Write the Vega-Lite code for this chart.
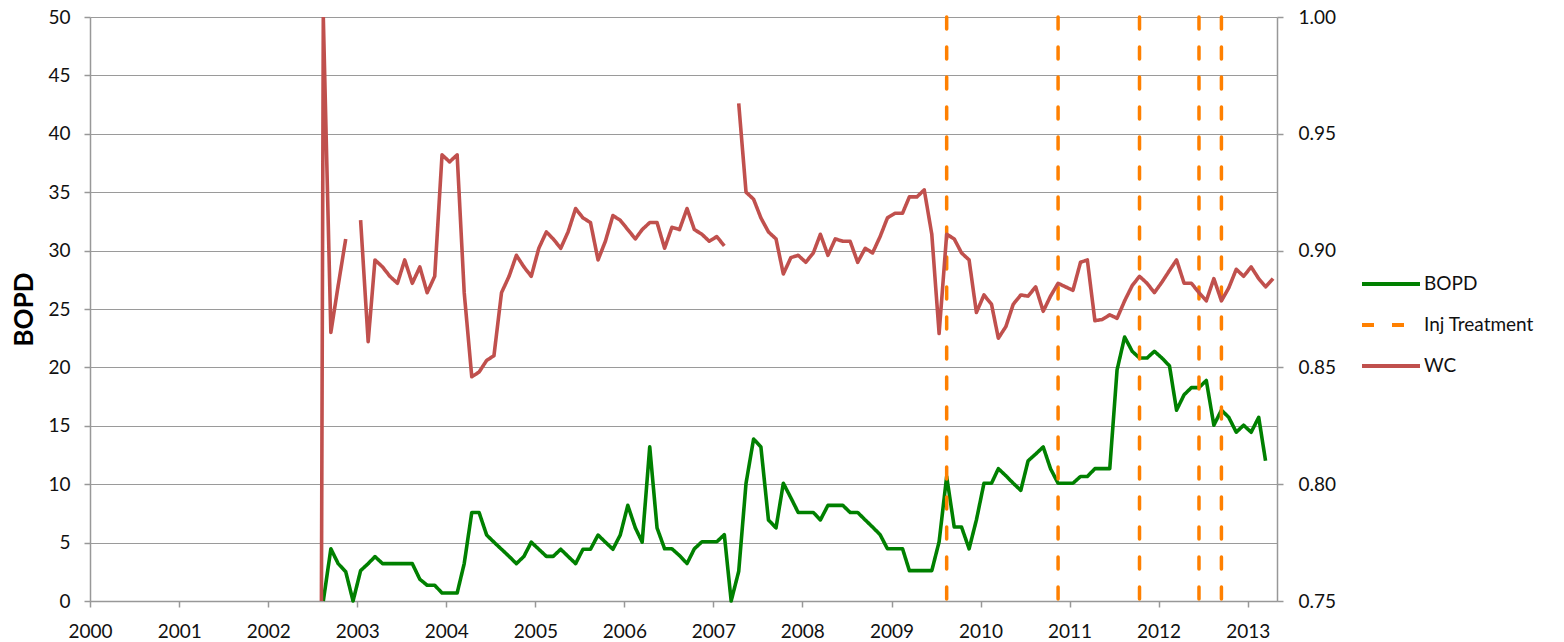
{
  "$schema": "https://vega.github.io/schema/vega-lite/v6.json",
  "width": 1187,
  "height": 584,
  "autosize": "none",
  "padding": {"left": 90, "top": 17, "right": 287, "bottom": 41},
  "background": "white",
  "config": {
    "view": {"stroke": null},
    "font": "Lato",
    "axis": {
      "labelFont": "Lato",
      "labelFontSize": 19,
      "labelColor": "#111111",
      "domainColor": "#989898",
      "tickColor": "#989898",
      "gridColor": "#9a9a9a",
      "domainWidth": 1.5,
      "tickWidth": 1.5,
      "gridWidth": 1.2,
      "tickSize": 6
    },
    "legend": {
      "labelFont": "Lato",
      "labelFontSize": 19,
      "labelColor": "#111111"
    }
  },
  "datasets": {
    "bopd": [
      {"date": "2002-08-15", "value": 0, "series": "BOPD"},
      {"date": "2002-09-15", "value": 4.47, "series": "BOPD"},
      {"date": "2002-10-15", "value": 3.2, "series": "BOPD"},
      {"date": "2002-11-15", "value": 2.5, "series": "BOPD"},
      {"date": "2002-12-15", "value": 0, "series": "BOPD"},
      {"date": "2003-01-15", "value": 2.6, "series": "BOPD"},
      {"date": "2003-02-15", "value": 3.2, "series": "BOPD"},
      {"date": "2003-03-15", "value": 3.8, "series": "BOPD"},
      {"date": "2003-04-15", "value": 3.2, "series": "BOPD"},
      {"date": "2003-05-15", "value": 3.2, "series": "BOPD"},
      {"date": "2003-06-15", "value": 3.2, "series": "BOPD"},
      {"date": "2003-07-15", "value": 3.2, "series": "BOPD"},
      {"date": "2003-08-15", "value": 3.2, "series": "BOPD"},
      {"date": "2003-09-15", "value": 1.86, "series": "BOPD"},
      {"date": "2003-10-15", "value": 1.35, "series": "BOPD"},
      {"date": "2003-11-15", "value": 1.35, "series": "BOPD"},
      {"date": "2003-12-15", "value": 0.68, "series": "BOPD"},
      {"date": "2004-01-15", "value": 0.68, "series": "BOPD"},
      {"date": "2004-02-15", "value": 0.68, "series": "BOPD"},
      {"date": "2004-03-15", "value": 3.2, "series": "BOPD"},
      {"date": "2004-04-15", "value": 7.58, "series": "BOPD"},
      {"date": "2004-05-15", "value": 7.58, "series": "BOPD"},
      {"date": "2004-06-15", "value": 5.65, "series": "BOPD"},
      {"date": "2004-07-15", "value": 5.04, "series": "BOPD"},
      {"date": "2004-08-15", "value": 4.43, "series": "BOPD"},
      {"date": "2004-09-15", "value": 3.82, "series": "BOPD"},
      {"date": "2004-10-15", "value": 3.2, "series": "BOPD"},
      {"date": "2004-11-15", "value": 3.82, "series": "BOPD"},
      {"date": "2004-12-15", "value": 5.04, "series": "BOPD"},
      {"date": "2005-01-15", "value": 4.43, "series": "BOPD"},
      {"date": "2005-02-15", "value": 3.82, "series": "BOPD"},
      {"date": "2005-03-15", "value": 3.82, "series": "BOPD"},
      {"date": "2005-04-15", "value": 4.43, "series": "BOPD"},
      {"date": "2005-05-15", "value": 3.82, "series": "BOPD"},
      {"date": "2005-06-15", "value": 3.2, "series": "BOPD"},
      {"date": "2005-07-15", "value": 4.43, "series": "BOPD"},
      {"date": "2005-08-15", "value": 4.43, "series": "BOPD"},
      {"date": "2005-09-15", "value": 5.65, "series": "BOPD"},
      {"date": "2005-10-15", "value": 5.04, "series": "BOPD"},
      {"date": "2005-11-15", "value": 4.43, "series": "BOPD"},
      {"date": "2005-12-15", "value": 5.65, "series": "BOPD"},
      {"date": "2006-01-15", "value": 8.19, "series": "BOPD"},
      {"date": "2006-02-15", "value": 6.26, "series": "BOPD"},
      {"date": "2006-03-15", "value": 5.04, "series": "BOPD"},
      {"date": "2006-04-15", "value": 13.2, "series": "BOPD"},
      {"date": "2006-05-15", "value": 6.26, "series": "BOPD"},
      {"date": "2006-06-15", "value": 4.47, "series": "BOPD"},
      {"date": "2006-07-15", "value": 4.47, "series": "BOPD"},
      {"date": "2006-08-15", "value": 3.89, "series": "BOPD"},
      {"date": "2006-09-15", "value": 3.21, "series": "BOPD"},
      {"date": "2006-10-15", "value": 4.47, "series": "BOPD"},
      {"date": "2006-11-15", "value": 5.07, "series": "BOPD"},
      {"date": "2006-12-15", "value": 5.07, "series": "BOPD"},
      {"date": "2007-01-15", "value": 5.07, "series": "BOPD"},
      {"date": "2007-02-15", "value": 5.68, "series": "BOPD"},
      {"date": "2007-03-15", "value": 0, "series": "BOPD"},
      {"date": "2007-04-15", "value": 2.54, "series": "BOPD"},
      {"date": "2007-05-15", "value": 10.08, "series": "BOPD"},
      {"date": "2007-06-15", "value": 13.87, "series": "BOPD"},
      {"date": "2007-07-15", "value": 13.19, "series": "BOPD"},
      {"date": "2007-08-15", "value": 6.94, "series": "BOPD"},
      {"date": "2007-09-15", "value": 6.26, "series": "BOPD"},
      {"date": "2007-10-15", "value": 10.08, "series": "BOPD"},
      {"date": "2007-11-15", "value": 8.83, "series": "BOPD"},
      {"date": "2007-12-15", "value": 7.58, "series": "BOPD"},
      {"date": "2008-01-15", "value": 7.58, "series": "BOPD"},
      {"date": "2008-02-15", "value": 7.58, "series": "BOPD"},
      {"date": "2008-03-15", "value": 6.94, "series": "BOPD"},
      {"date": "2008-04-15", "value": 8.19, "series": "BOPD"},
      {"date": "2008-05-15", "value": 8.19, "series": "BOPD"},
      {"date": "2008-06-15", "value": 8.19, "series": "BOPD"},
      {"date": "2008-07-15", "value": 7.58, "series": "BOPD"},
      {"date": "2008-08-15", "value": 7.58, "series": "BOPD"},
      {"date": "2008-09-15", "value": 6.94, "series": "BOPD"},
      {"date": "2008-10-15", "value": 6.33, "series": "BOPD"},
      {"date": "2008-11-15", "value": 5.68, "series": "BOPD"},
      {"date": "2008-12-15", "value": 4.47, "series": "BOPD"},
      {"date": "2009-01-15", "value": 4.47, "series": "BOPD"},
      {"date": "2009-02-15", "value": 4.47, "series": "BOPD"},
      {"date": "2009-03-15", "value": 2.6, "series": "BOPD"},
      {"date": "2009-04-15", "value": 2.6, "series": "BOPD"},
      {"date": "2009-05-15", "value": 2.6, "series": "BOPD"},
      {"date": "2009-06-15", "value": 2.6, "series": "BOPD"},
      {"date": "2009-07-15", "value": 5.07, "series": "BOPD"},
      {"date": "2009-08-15", "value": 10.66, "series": "BOPD"},
      {"date": "2009-09-15", "value": 6.33, "series": "BOPD"},
      {"date": "2009-10-15", "value": 6.33, "series": "BOPD"},
      {"date": "2009-11-15", "value": 4.47, "series": "BOPD"},
      {"date": "2009-12-15", "value": 6.94, "series": "BOPD"},
      {"date": "2010-01-15", "value": 10.08, "series": "BOPD"},
      {"date": "2010-02-15", "value": 10.08, "series": "BOPD"},
      {"date": "2010-03-15", "value": 11.33, "series": "BOPD"},
      {"date": "2010-04-15", "value": 10.72, "series": "BOPD"},
      {"date": "2010-05-15", "value": 10.08, "series": "BOPD"},
      {"date": "2010-06-15", "value": 9.47, "series": "BOPD"},
      {"date": "2010-07-15", "value": 12.0, "series": "BOPD"},
      {"date": "2010-08-15", "value": 12.58, "series": "BOPD"},
      {"date": "2010-09-15", "value": 13.19, "series": "BOPD"},
      {"date": "2010-10-15", "value": 11.33, "series": "BOPD"},
      {"date": "2010-11-15", "value": 10.08, "series": "BOPD"},
      {"date": "2010-12-15", "value": 10.08, "series": "BOPD"},
      {"date": "2011-01-15", "value": 10.08, "series": "BOPD"},
      {"date": "2011-02-15", "value": 10.66, "series": "BOPD"},
      {"date": "2011-03-15", "value": 10.66, "series": "BOPD"},
      {"date": "2011-04-15", "value": 11.33, "series": "BOPD"},
      {"date": "2011-05-15", "value": 11.33, "series": "BOPD"},
      {"date": "2011-06-15", "value": 11.33, "series": "BOPD"},
      {"date": "2011-07-15", "value": 19.79, "series": "BOPD"},
      {"date": "2011-08-15", "value": 22.6, "series": "BOPD"},
      {"date": "2011-09-15", "value": 21.38, "series": "BOPD"},
      {"date": "2011-10-15", "value": 20.8, "series": "BOPD"},
      {"date": "2011-11-15", "value": 20.8, "series": "BOPD"},
      {"date": "2011-12-15", "value": 21.38, "series": "BOPD"},
      {"date": "2012-01-15", "value": 20.8, "series": "BOPD"},
      {"date": "2012-02-15", "value": 20.13, "series": "BOPD"},
      {"date": "2012-03-15", "value": 16.34, "series": "BOPD"},
      {"date": "2012-04-15", "value": 17.66, "series": "BOPD"},
      {"date": "2012-05-15", "value": 18.27, "series": "BOPD"},
      {"date": "2012-06-15", "value": 18.27, "series": "BOPD"},
      {"date": "2012-07-15", "value": 18.88, "series": "BOPD"},
      {"date": "2012-08-15", "value": 15.05, "series": "BOPD"},
      {"date": "2012-09-15", "value": 16.34, "series": "BOPD"},
      {"date": "2012-10-15", "value": 15.73, "series": "BOPD"},
      {"date": "2012-11-15", "value": 14.45, "series": "BOPD"},
      {"date": "2012-12-15", "value": 15.05, "series": "BOPD"},
      {"date": "2013-01-15", "value": 14.45, "series": "BOPD"},
      {"date": "2013-02-15", "value": 15.73, "series": "BOPD"},
      {"date": "2013-03-15", "value": 12.0, "series": "BOPD"}
    ],
    "inj": [
      {"date": "2009-08-15", "series": "Inj Treatment"},
      {"date": "2010-11-15", "series": "Inj Treatment"},
      {"date": "2011-10-15", "series": "Inj Treatment"},
      {"date": "2012-06-15", "series": "Inj Treatment"},
      {"date": "2012-09-15", "series": "Inj Treatment"}
    ],
    "wc": [
      {"date": "2002-07-15", "value": 0, "seg": 1, "series": "WC"},
      {"date": "2002-08-15", "value": 1.0, "seg": 1, "series": "WC"},
      {"date": "2002-09-15", "value": 0.865, "seg": 1, "series": "WC"},
      {"date": "2002-10-15", "value": 0.885, "seg": 1, "series": "WC"},
      {"date": "2002-11-15", "value": 0.905, "seg": 1, "series": "WC"},
      {"date": "2003-01-15", "value": 0.913, "seg": 2, "series": "WC"},
      {"date": "2003-02-15", "value": 0.861, "seg": 2, "series": "WC"},
      {"date": "2003-03-15", "value": 0.896, "seg": 2, "series": "WC"},
      {"date": "2003-04-15", "value": 0.893, "seg": 2, "series": "WC"},
      {"date": "2003-05-15", "value": 0.889, "seg": 2, "series": "WC"},
      {"date": "2003-06-15", "value": 0.886, "seg": 2, "series": "WC"},
      {"date": "2003-07-15", "value": 0.896, "seg": 2, "series": "WC"},
      {"date": "2003-08-15", "value": 0.886, "seg": 2, "series": "WC"},
      {"date": "2003-09-15", "value": 0.893, "seg": 2, "series": "WC"},
      {"date": "2003-10-15", "value": 0.882, "seg": 2, "series": "WC"},
      {"date": "2003-11-15", "value": 0.889, "seg": 2, "series": "WC"},
      {"date": "2003-12-15", "value": 0.941, "seg": 2, "series": "WC"},
      {"date": "2004-01-15", "value": 0.938, "seg": 2, "series": "WC"},
      {"date": "2004-02-15", "value": 0.941, "seg": 2, "series": "WC"},
      {"date": "2004-03-15", "value": 0.882, "seg": 2, "series": "WC"},
      {"date": "2004-04-15", "value": 0.846, "seg": 2, "series": "WC"},
      {"date": "2004-05-15", "value": 0.848, "seg": 2, "series": "WC"},
      {"date": "2004-06-15", "value": 0.853, "seg": 2, "series": "WC"},
      {"date": "2004-07-15", "value": 0.855, "seg": 2, "series": "WC"},
      {"date": "2004-08-15", "value": 0.882, "seg": 2, "series": "WC"},
      {"date": "2004-09-15", "value": 0.889, "seg": 2, "series": "WC"},
      {"date": "2004-10-15", "value": 0.898, "seg": 2, "series": "WC"},
      {"date": "2004-11-15", "value": 0.893, "seg": 2, "series": "WC"},
      {"date": "2004-12-15", "value": 0.889, "seg": 2, "series": "WC"},
      {"date": "2005-01-15", "value": 0.901, "seg": 2, "series": "WC"},
      {"date": "2005-02-15", "value": 0.908, "seg": 2, "series": "WC"},
      {"date": "2005-03-15", "value": 0.905, "seg": 2, "series": "WC"},
      {"date": "2005-04-15", "value": 0.901, "seg": 2, "series": "WC"},
      {"date": "2005-05-15", "value": 0.908, "seg": 2, "series": "WC"},
      {"date": "2005-06-15", "value": 0.918, "seg": 2, "series": "WC"},
      {"date": "2005-07-15", "value": 0.914, "seg": 2, "series": "WC"},
      {"date": "2005-08-15", "value": 0.912, "seg": 2, "series": "WC"},
      {"date": "2005-09-15", "value": 0.896, "seg": 2, "series": "WC"},
      {"date": "2005-10-15", "value": 0.904, "seg": 2, "series": "WC"},
      {"date": "2005-11-15", "value": 0.915, "seg": 2, "series": "WC"},
      {"date": "2005-12-15", "value": 0.913, "seg": 2, "series": "WC"},
      {"date": "2006-01-15", "value": 0.909, "seg": 2, "series": "WC"},
      {"date": "2006-02-15", "value": 0.905, "seg": 2, "series": "WC"},
      {"date": "2006-03-15", "value": 0.909, "seg": 2, "series": "WC"},
      {"date": "2006-04-15", "value": 0.912, "seg": 2, "series": "WC"},
      {"date": "2006-05-15", "value": 0.912, "seg": 2, "series": "WC"},
      {"date": "2006-06-15", "value": 0.901, "seg": 2, "series": "WC"},
      {"date": "2006-07-15", "value": 0.910, "seg": 2, "series": "WC"},
      {"date": "2006-08-15", "value": 0.909, "seg": 2, "series": "WC"},
      {"date": "2006-09-15", "value": 0.918, "seg": 2, "series": "WC"},
      {"date": "2006-10-15", "value": 0.909, "seg": 2, "series": "WC"},
      {"date": "2006-11-15", "value": 0.907, "seg": 2, "series": "WC"},
      {"date": "2006-12-15", "value": 0.904, "seg": 2, "series": "WC"},
      {"date": "2007-01-15", "value": 0.906, "seg": 2, "series": "WC"},
      {"date": "2007-02-15", "value": 0.902, "seg": 2, "series": "WC"},
      {"date": "2007-04-15", "value": 0.963, "seg": 3, "series": "WC"},
      {"date": "2007-05-15", "value": 0.925, "seg": 3, "series": "WC"},
      {"date": "2007-06-15", "value": 0.922, "seg": 3, "series": "WC"},
      {"date": "2007-07-15", "value": 0.914, "seg": 3, "series": "WC"},
      {"date": "2007-08-15", "value": 0.908, "seg": 3, "series": "WC"},
      {"date": "2007-09-15", "value": 0.905, "seg": 3, "series": "WC"},
      {"date": "2007-10-15", "value": 0.890, "seg": 3, "series": "WC"},
      {"date": "2007-11-15", "value": 0.897, "seg": 3, "series": "WC"},
      {"date": "2007-12-15", "value": 0.898, "seg": 3, "series": "WC"},
      {"date": "2008-01-15", "value": 0.895, "seg": 3, "series": "WC"},
      {"date": "2008-02-15", "value": 0.899, "seg": 3, "series": "WC"},
      {"date": "2008-03-15", "value": 0.907, "seg": 3, "series": "WC"},
      {"date": "2008-04-15", "value": 0.898, "seg": 3, "series": "WC"},
      {"date": "2008-05-15", "value": 0.905, "seg": 3, "series": "WC"},
      {"date": "2008-06-15", "value": 0.904, "seg": 3, "series": "WC"},
      {"date": "2008-07-15", "value": 0.904, "seg": 3, "series": "WC"},
      {"date": "2008-08-15", "value": 0.895, "seg": 3, "series": "WC"},
      {"date": "2008-09-15", "value": 0.901, "seg": 3, "series": "WC"},
      {"date": "2008-10-15", "value": 0.899, "seg": 3, "series": "WC"},
      {"date": "2008-11-15", "value": 0.906, "seg": 3, "series": "WC"},
      {"date": "2008-12-15", "value": 0.914, "seg": 3, "series": "WC"},
      {"date": "2009-01-15", "value": 0.916, "seg": 3, "series": "WC"},
      {"date": "2009-02-15", "value": 0.916, "seg": 3, "series": "WC"},
      {"date": "2009-03-15", "value": 0.923, "seg": 3, "series": "WC"},
      {"date": "2009-04-15", "value": 0.923, "seg": 3, "series": "WC"},
      {"date": "2009-05-15", "value": 0.926, "seg": 3, "series": "WC"},
      {"date": "2009-06-15", "value": 0.907, "seg": 3, "series": "WC"},
      {"date": "2009-07-15", "value": 0.8645, "seg": 3, "series": "WC"},
      {"date": "2009-08-15", "value": 0.907, "seg": 3, "series": "WC"},
      {"date": "2009-09-15", "value": 0.905, "seg": 3, "series": "WC"},
      {"date": "2009-10-15", "value": 0.899, "seg": 3, "series": "WC"},
      {"date": "2009-11-15", "value": 0.896, "seg": 3, "series": "WC"},
      {"date": "2009-12-15", "value": 0.8735, "seg": 3, "series": "WC"},
      {"date": "2010-01-15", "value": 0.881, "seg": 3, "series": "WC"},
      {"date": "2010-02-15", "value": 0.877, "seg": 3, "series": "WC"},
      {"date": "2010-03-15", "value": 0.8625, "seg": 3, "series": "WC"},
      {"date": "2010-04-15", "value": 0.8675, "seg": 3, "series": "WC"},
      {"date": "2010-05-15", "value": 0.877, "seg": 3, "series": "WC"},
      {"date": "2010-06-15", "value": 0.881, "seg": 3, "series": "WC"},
      {"date": "2010-07-15", "value": 0.8805, "seg": 3, "series": "WC"},
      {"date": "2010-08-15", "value": 0.8845, "seg": 3, "series": "WC"},
      {"date": "2010-09-15", "value": 0.874, "seg": 3, "series": "WC"},
      {"date": "2010-10-15", "value": 0.8805, "seg": 3, "series": "WC"},
      {"date": "2010-11-15", "value": 0.886, "seg": 3, "series": "WC"},
      {"date": "2010-12-15", "value": 0.8845, "seg": 3, "series": "WC"},
      {"date": "2011-01-15", "value": 0.883, "seg": 3, "series": "WC"},
      {"date": "2011-02-15", "value": 0.895, "seg": 3, "series": "WC"},
      {"date": "2011-03-15", "value": 0.896, "seg": 3, "series": "WC"},
      {"date": "2011-04-15", "value": 0.870, "seg": 3, "series": "WC"},
      {"date": "2011-05-15", "value": 0.8705, "seg": 3, "series": "WC"},
      {"date": "2011-06-15", "value": 0.8725, "seg": 3, "series": "WC"},
      {"date": "2011-07-15", "value": 0.871, "seg": 3, "series": "WC"},
      {"date": "2011-08-15", "value": 0.8785, "seg": 3, "series": "WC"},
      {"date": "2011-09-15", "value": 0.885, "seg": 3, "series": "WC"},
      {"date": "2011-10-15", "value": 0.889, "seg": 3, "series": "WC"},
      {"date": "2011-11-15", "value": 0.886, "seg": 3, "series": "WC"},
      {"date": "2011-12-15", "value": 0.882, "seg": 3, "series": "WC"},
      {"date": "2012-01-15", "value": 0.8865, "seg": 3, "series": "WC"},
      {"date": "2012-02-15", "value": 0.8915, "seg": 3, "series": "WC"},
      {"date": "2012-03-15", "value": 0.896, "seg": 3, "series": "WC"},
      {"date": "2012-04-15", "value": 0.886, "seg": 3, "series": "WC"},
      {"date": "2012-05-15", "value": 0.886, "seg": 3, "series": "WC"},
      {"date": "2012-06-15", "value": 0.882, "seg": 3, "series": "WC"},
      {"date": "2012-07-15", "value": 0.8785, "seg": 3, "series": "WC"},
      {"date": "2012-08-15", "value": 0.888, "seg": 3, "series": "WC"},
      {"date": "2012-09-15", "value": 0.8785, "seg": 3, "series": "WC"},
      {"date": "2012-10-15", "value": 0.884, "seg": 3, "series": "WC"},
      {"date": "2012-11-15", "value": 0.892, "seg": 3, "series": "WC"},
      {"date": "2012-12-15", "value": 0.889, "seg": 3, "series": "WC"},
      {"date": "2013-01-15", "value": 0.893, "seg": 3, "series": "WC"},
      {"date": "2013-02-15", "value": 0.888, "seg": 3, "series": "WC"},
      {"date": "2013-03-15", "value": 0.8845, "seg": 3, "series": "WC"},
      {"date": "2013-04-15", "value": 0.888, "seg": 3, "series": "WC"}
    ]
  },
  "layer": [
    {
      "data": {"name": "bopd"},
      "mark": {"type": "line", "strokeWidth": 3.6, "strokeJoin": "round"},
      "encoding": {
        "x": {
          "field": "date", "type": "temporal",
          "scale": {"type": "utc", "domain": [{"year": 2000, "month": 1, "date": 1, "utc": true}, {"year": 2013, "month": 5, "date": 1, "utc": true}]},
          "axis": {"title": null, "format": "%Y", "tickCount": {"interval": "year", "step": 1}, "grid": false, "labelPadding": 15, "labelFlush": false, "labelOverlap": false}
        },
        "y": {
          "field": "value", "type": "quantitative",
          "scale": {"domain": [0, 50], "nice": false},
          "axis": {"title": "BOPD", "titleFont": "Lato", "titleFontSize": 26, "titleFontWeight": "bold", "titleColor": "#000000", "titlePadding": 10, "values": [0, 5, 10, 15, 20, 25, 30, 35, 40, 45, 50], "grid": true, "labelPadding": 14, "orient": "left"}
        },
        "color": {
          "field": "series", "type": "nominal",
          "scale": {"domain": ["BOPD", "Inj Treatment", "WC"], "range": ["#008000", "#FF8000", "#C0504D"]},
          "legend": {"title": null, "orient": "none", "legendX": 1270, "legendY": 236, "symbolType": "stroke", "symbolSize": 3364, "symbolStrokeWidth": 4, "labelOffset": 2, "rowPadding": -1, "padding": 0}
        },
        "strokeDash": {
          "field": "series", "type": "nominal",
          "scale": {"domain": ["BOPD", "Inj Treatment", "WC"], "range": [[1, 0], [12, 18], [1, 0]]},
          "legend": {"title": null, "orient": "none", "legendX": 1270, "legendY": 236, "symbolType": "stroke", "symbolSize": 3364, "symbolStrokeWidth": 4, "labelOffset": 2, "rowPadding": -1, "padding": 0}
        }
      }
    },
    {
      "data": {"name": "inj"},
      "mark": {"type": "rule", "strokeWidth": 3.5, "strokeCap": "round"},
      "encoding": {
        "x": {
          "field": "date", "type": "temporal",
          "scale": {"type": "utc", "domain": [{"year": 2000, "month": 1, "date": 1, "utc": true}, {"year": 2013, "month": 5, "date": 1, "utc": true}]},
          "axis": {"title": null, "format": "%Y", "tickCount": {"interval": "year", "step": 1}, "grid": false, "labelPadding": 15, "labelFlush": false, "labelOverlap": false}
        },
        "color": {
          "field": "series", "type": "nominal",
          "scale": {"domain": ["BOPD", "Inj Treatment", "WC"], "range": ["#008000", "#FF8000", "#C0504D"]},
          "legend": {"title": null, "orient": "none", "legendX": 1270, "legendY": 236, "symbolType": "stroke", "symbolSize": 3364, "symbolStrokeWidth": 4, "labelOffset": 2, "rowPadding": -1, "padding": 0}
        },
        "strokeDash": {
          "field": "series", "type": "nominal",
          "scale": {"domain": ["BOPD", "Inj Treatment", "WC"], "range": [[1, 0], [12, 18], [1, 0]]},
          "legend": {"title": null, "orient": "none", "legendX": 1270, "legendY": 236, "symbolType": "stroke", "symbolSize": 3364, "symbolStrokeWidth": 4, "labelOffset": 2, "rowPadding": -1, "padding": 0}
        }
      }
    },
    {
      "data": {"name": "wc"},
      "mark": {"type": "line", "strokeWidth": 3.6, "strokeJoin": "round", "clip": true},
      "encoding": {
        "x": {
          "field": "date", "type": "temporal",
          "scale": {"type": "utc", "domain": [{"year": 2000, "month": 1, "date": 1, "utc": true}, {"year": 2013, "month": 5, "date": 1, "utc": true}]},
          "axis": {"title": null, "format": "%Y", "tickCount": {"interval": "year", "step": 1}, "grid": false, "labelPadding": 15, "labelFlush": false, "labelOverlap": false}
        },
        "y": {
          "field": "value", "type": "quantitative",
          "scale": {"domain": [0.75, 1.0], "nice": false, "zero": false},
          "axis": {"title": null, "orient": "right", "format": ".2f", "values": [0.75, 0.8, 0.85, 0.9, 0.95, 1.0], "grid": false, "labelPadding": 15}
        },
        "detail": {"field": "seg", "type": "nominal"},
        "color": {
          "field": "series", "type": "nominal",
          "scale": {"domain": ["BOPD", "Inj Treatment", "WC"], "range": ["#008000", "#FF8000", "#C0504D"]},
          "legend": {"title": null, "orient": "none", "legendX": 1270, "legendY": 236, "symbolType": "stroke", "symbolSize": 3364, "symbolStrokeWidth": 4, "labelOffset": 2, "rowPadding": -1, "padding": 0}
        },
        "strokeDash": {
          "field": "series", "type": "nominal",
          "scale": {"domain": ["BOPD", "Inj Treatment", "WC"], "range": [[1, 0], [12, 18], [1, 0]]},
          "legend": {"title": null, "orient": "none", "legendX": 1270, "legendY": 236, "symbolType": "stroke", "symbolSize": 3364, "symbolStrokeWidth": 4, "labelOffset": 2, "rowPadding": -1, "padding": 0}
        }
      }
    }
  ],
  "resolve": {"scale": {"y": "independent"}, "axis": {"y": "independent"}}
}
